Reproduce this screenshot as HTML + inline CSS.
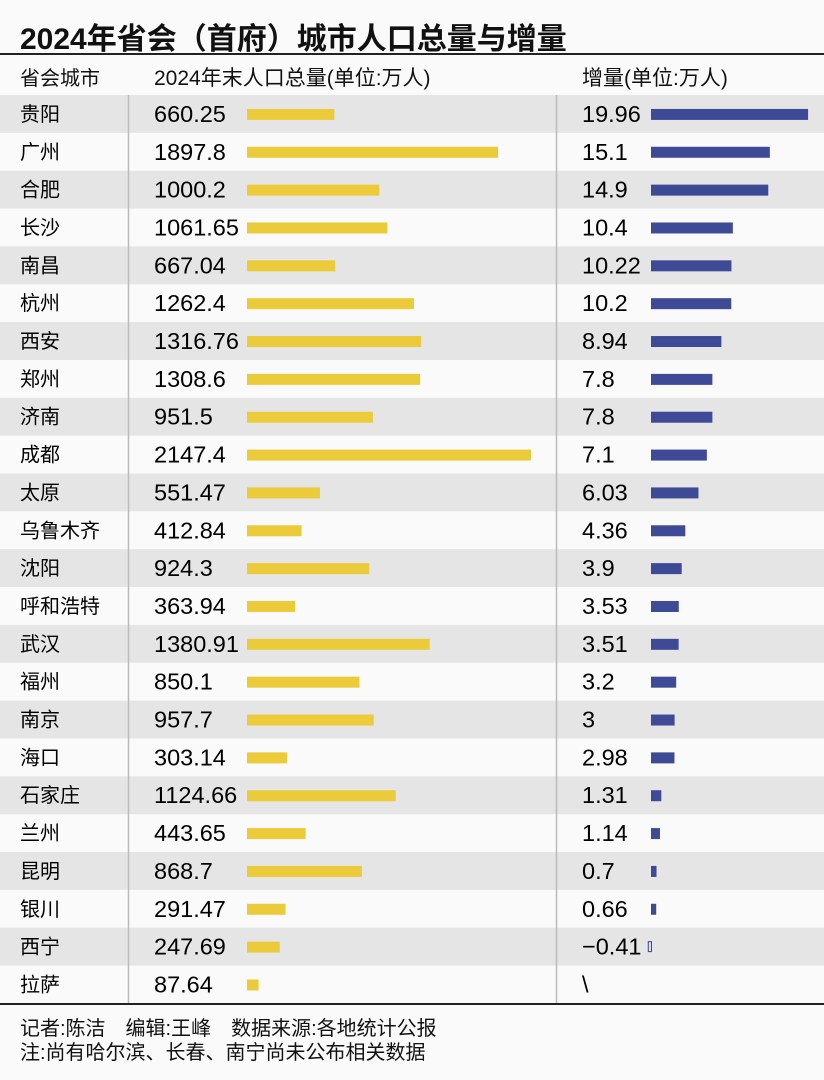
<!DOCTYPE html>
<html><head><meta charset="utf-8"><style>
body{margin:0;width:824px;height:1080px;background:#fafafa;font-family:"Liberation Sans","Noto Sans CJK SC",sans-serif;color:#111;overflow:hidden;position:relative}
.t{position:absolute;white-space:nowrap}
</style></head><body>
<div class="t" style="left:20px;top:14px;font-size:30px;font-weight:600">2024年省会（首府）城市人口总量与增量</div>
<div style="position:absolute;left:0;top:53px;width:824px;height:1.5px;background:#222"></div>
<div class="t" style="left:20px;top:62px;font-size:20px">省会城市</div>
<div class="t" style="left:154px;top:62px;font-size:21px">2024年末人口总量(单位:万人)</div>
<div class="t" style="left:582px;top:62px;font-size:21px">增量(单位:万人)</div>
<svg id="chart" width="824" height="1080" style="position:absolute;left:0;top:0"></svg>
<div style="position:absolute;left:0;top:1003px;width:824px;height:1.5px;background:#222"></div>
<div class="t" style="left:20px;top:1012px;font-size:20px">记者:陈洁　编辑:王峰　数据来源:各地统计公报</div>
<div class="t" style="left:20px;top:1036px;font-size:20px">注:尚有哈尔滨、长春、南宁尚未公布相关数据</div>
<script>
const cities=["贵阳","广州","合肥","长沙","南昌","杭州","西安","郑州","济南","成都","太原","乌鲁木齐","沈阳","呼和浩特","武汉","福州","南京","海口","石家庄","兰州","昆明","银川","西宁","拉萨"];
const population=[660.25,1897.8,1000.2,1061.65,667.04,1262.4,1316.76,1308.6,951.5,2147.4,551.47,412.84,924.3,363.94,1380.91,850.1,957.7,303.14,1124.66,443.65,868.7,291.47,247.69,87.64];
const popLabels=["660.25","1897.8","1000.2","1061.65","667.04","1262.4","1316.76","1308.6","951.5","2147.4","551.47","412.84","924.3","363.94","1380.91","850.1","957.7","303.14","1124.66","443.65","868.7","291.47","247.69","87.64"];
const increase=[19.96,15.1,14.9,10.4,10.22,10.2,8.94,7.8,7.8,7.1,6.03,4.36,3.9,3.53,3.51,3.2,3,2.98,1.31,1.14,0.7,0.66,-0.41,null];
const incLabels=["19.96","15.1","14.9","10.4","10.22","10.2","8.94","7.8","7.8","7.1","6.03","4.36","3.9","3.53","3.51","3.2","3","2.98","1.31","1.14","0.7","0.66","−0.41","\\"];
const svg=document.getElementById('chart');const NS="http://www.w3.org/2000/svg";
const top0=95,rowH=37.85;
const yRow=i=>top0+i*rowH;
const xPop=v=>247+v*0.1323;
const xInc=v=>651+v*7.87;
function mk(tag,attrs,parent){const e=document.createElementNS(NS,tag);for(const k in attrs)e.setAttribute(k,attrs[k]);(parent||svg).appendChild(e);return e;}
cities.forEach((c,i)=>{
  const g=mk('g',{});
  
  
  if(i%2===0){const bg=mk('rect',{x:0,y:yRow(i),width:824,height:rowH,fill:'#e5e5e5'},g);
    
    }
  const cy=yRow(i)+rowH/2;
  const t1=mk('text',{x:20,y:cy+7,'font-size':20},g);t1.textContent=c;
  
  
  const t2=mk('text',{x:154,y:cy+8,'font-size':23.5,'font-weight':500},g);t2.textContent=popLabels[i];
  
  
  const b=mk('rect',{x:xPop(0),y:cy-5,width:xPop(population[i])-xPop(0),height:11,fill:'#eccb3b'},g);
  
  
  const t3=mk('text',{x:582,y:cy+8,'font-size':23.5,'font-weight':500},g);t3.textContent=incLabels[i];
  
  
  const v=increase[i];
  if(v!==null){
    let b2;
    if(v>=0)b2=mk('rect',{x:xInc(0),y:cy-5,width:xInc(v)-xInc(0),height:11,fill:'#3f4a96'},g);
    else b2=mk('rect',{x:xInc(v)+0.5,y:cy-5,width:xInc(0)-xInc(v),height:10,fill:'#dde',stroke:'#3f4a96','stroke-width':1},g);
    
    
  }
});
const l1=mk('line',{x1:128.5,y1:top0,x2:128.5,y2:1003,stroke:'#bbb','stroke-width':1.5});


const l2=mk('line',{x1:556.5,y1:top0,x2:556.5,y2:1003,stroke:'#bbb','stroke-width':1.5});


</script>
</body></html>
